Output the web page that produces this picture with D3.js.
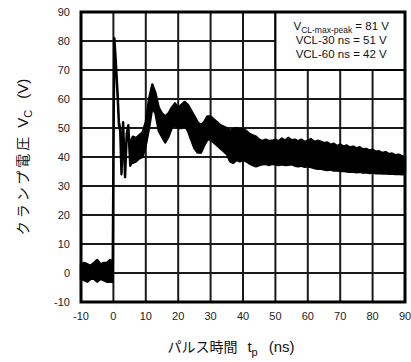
<!DOCTYPE html>
<html>
<head>
<meta charset="utf-8">
<script src="https://cdn.jsdelivr.net/npm/d3@7"></script>
<style>
  body { margin: 0; background: #fff; }
  svg { display: block; }
</style>
</head>
<body>
<div id="chart"></div>
<script>
// time (ns), upper / lower edge of the trace (V)
const timeNs = [-10, -9, -8, -7, -6, -5, -4, -3, -2, -1, -0.2,
    0, 0.3, 0.8, 1.3, 1.7, 2.1, 2.5, 3.0, 3.6, 4.1, 4.6, 5.2, 5.6,
    6, 7, 8, 9, 10, 11, 12, 13, 14, 15, 16, 17, 18, 19, 20,
    21, 22, 23, 24, 25, 26, 27, 28, 29, 30, 31, 32, 33, 34, 35,
    36, 37, 38, 39, 40, 41, 42, 43, 44, 45, 46, 47, 48, 49, 50,
    51, 52, 53, 54, 55, 56, 57, 58, 59, 60, 61, 62, 63, 64, 65,
    66, 67, 68, 69, 70, 71, 72, 73, 74, 75, 76, 77, 78, 79, 80,
    81, 82, 83, 84, 85, 86, 87, 88, 89, 90];
const upperV = [3, 3.5, 3, 2.5, 3.5, 4.5, 3, 3.5, 3.5, 4.5, 4,
    40, 81, 72, 62, 52, 50, 35, 52, 33.5, 48, 51, 38, 46,
    47, 46.5, 47.5, 48.5, 52, 60, 65, 62, 57, 55, 54, 55, 57, 58.5, 57,
    58, 59, 58, 56, 54, 52, 51, 52, 54, 54, 53, 52, 51, 50.5, 50,
    49, 49.5, 50, 49.5, 49.5, 49, 48, 47.5, 47, 46, 45.5, 46, 45.5, 45.6, 46,
    45.4, 46.4, 45.6, 46.6, 45.8, 46, 45.4, 46, 45.2, 45.6, 46.2, 45.2, 45.6, 45.3, 44.8,
    45, 44.2, 44.6, 43.8, 44.3, 43.6, 44, 43.3, 43.6, 43, 43.4, 42.6, 42.8, 42.2, 42.5,
    41.8, 42, 41.4, 41.7, 41, 41.2, 40.6, 40.8, 40.3, 40];
const lowerV = [-2, -2.5, -3, -2, -2, -3, -2, -2.5, -3, -3, -3,
    40, 80, 71, 61, 51, 49, 34, 51, 33, 47, 50, 37, 38,
    38, 38.5, 39.5, 40, 44, 50, 57, 55, 49, 47, 45, 47, 50, 51, 50,
    50, 51, 49, 46, 43, 41.5, 41.5, 44, 46, 46, 45, 44, 43, 42, 41,
    38.5, 38, 39, 38.5, 39, 38.5, 37.8, 37.2, 36.8, 37.2, 37.5, 37.6, 37.2, 37.6, 37.5,
    37.2, 37.5, 37.2, 37.3, 37.5, 37, 36.8, 37, 36.6, 36.8, 36.5, 36.2, 35.9, 36, 35.7,
    35.5, 35.7, 35.3, 35.4, 35.1, 35.2, 35, 34.9, 35, 34.7, 34.9, 34.6, 34.7, 34.5, 34.6,
    34.4, 34.5, 34.3, 34.4, 34.2, 34.3, 34.1, 34.2, 34, 34.1];

const xTicks = [-10, 0, 10, 20, 30, 40, 50, 60, 70, 80, 90];
const yTicks = [-10, 0, 10, 20, 30, 40, 50, 60, 70, 80, 90];
const noteLines = ["VCL-30 ns = 51 V", "VCL-60 ns = 42 V"];

const width = 411, height = 362;
const margin = {top: 12, right: 6, bottom: 60, left: 81};
const latin = "'Liberation Sans', Arial, sans-serif";
const jp = "'Noto Sans CJK JP', sans-serif";
const gridColor = "#1a1a1a";

const svg = d3.select("#chart").append("svg")
    .attr("width", width)
    .attr("height", height);

const x = d3.scaleLinear().domain([-10, 90]).range([margin.left, width - margin.right]);
const y = d3.scaleLinear().domain([-10, 90]).range([height - margin.bottom, margin.top]);

// grid
svg.append("g").selectAll("line")
    .data(xTicks).enter().append("line")
    .attr("x1", d => x(d)).attr("x2", d => x(d))
    .attr("y1", y(-10)).attr("y2", y(90))
    .attr("stroke", gridColor).attr("stroke-width", 2);
svg.append("g").selectAll("line")
    .data(yTicks).enter().append("line")
    .attr("x1", x(-10)).attr("x2", x(90))
    .attr("y1", d => y(d)).attr("y2", d => y(d))
    .attr("stroke", gridColor).attr("stroke-width", 2);

// tick labels
svg.append("g").selectAll("text")
    .data(yTicks)
    .enter().append("text")
    .attr("x", x(-10) - 11)
    .attr("y", d => y(d) + 4)
    .attr("text-anchor", "end")
    .attr("font-family", latin).attr("font-size", 11).attr("fill", "#222")
    .text(d => d);

svg.append("g").selectAll("text")
    .data(xTicks)
    .enter().append("text")
    .attr("x", d => x(d))
    .attr("y", y(-10) + 18)
    .attr("text-anchor", "middle")
    .attr("font-family", latin).attr("font-size", 11).attr("fill", "#222")
    .text(d => d);

// trace
const pts = timeNs.map((t, i) => ({t: t, hi: upperV[i], lo: lowerV[i]}));
const area = d3.area()
    .x(d => x(d.t))
    .y0(d => y(d.lo))
    .y1(d => y(d.hi));

svg.append("path")
    .datum(pts)
    .attr("d", area)
    .attr("fill", "#000")
    .attr("stroke", "#000")
    .attr("stroke-width", 2.4)
    .attr("stroke-linejoin", "round");

// note box
svg.append("rect")
    .attr("x", x(50)).attr("y", y(90))
    .attr("width", x(90) - x(50)).attr("height", y(70) - y(90))
    .attr("fill", "#fff").attr("stroke", "#000").attr("stroke-width", 2);

const cx = (x(50) + x(90)) / 2 + 1;
const t1 = svg.append("text")
    .attr("x", cx).attr("y", 30)
    .attr("text-anchor", "middle")
    .attr("font-family", latin).attr("font-size", 11.5).attr("fill", "#111");
t1.append("tspan").text("V");
t1.append("tspan").attr("font-size", 8.5).attr("dy", 3).text("CL-max-peak");
t1.append("tspan").attr("dy", -3).text("  = 81 V");

svg.append("g").selectAll("text")
    .data(noteLines)
    .enter().append("text")
    .attr("x", cx)
    .attr("y", (d, i) => 44 + i * 14)
    .attr("text-anchor", "middle")
    .attr("font-family", latin).attr("font-size", 11.5).attr("fill", "#111")
    .text(d => d);

// frame
svg.append("rect")
    .attr("x", x(-10)).attr("y", y(90))
    .attr("width", x(90) - x(-10)).attr("height", y(-10) - y(90))
    .attr("fill", "none").attr("stroke", "#000").attr("stroke-width", 3);

// axis titles
const xt = svg.append("text")
    .attr("x", 231).attr("y", 352)
    .attr("text-anchor", "middle")
    .attr("font-size", 15).attr("fill", "#111");
xt.append("tspan").attr("font-family", jp).attr("font-size", 14).text("パルス時間");
xt.append("tspan").attr("font-family", latin).attr("dx", 10).text("t");
xt.append("tspan").attr("font-family", latin).attr("font-size", 11).attr("dy", 4).text("p");
xt.append("tspan").attr("font-family", latin).attr("dy", -4).attr("dx", 11).text("(ns)");

const yt = svg.append("text")
    .attr("transform", "translate(28," + 157 + ") rotate(-90)")
    .attr("text-anchor", "middle")
    .attr("font-size", 15).attr("fill", "#111");
yt.append("tspan").attr("font-family", jp).attr("font-size", 14).attr("letter-spacing", 3).text("クランプ電圧");
yt.append("tspan").attr("font-family", latin).attr("dx", 6).text("V");
yt.append("tspan").attr("font-family", latin).attr("font-size", 11).attr("dy", 4).text("C");
yt.append("tspan").attr("font-family", latin).attr("dy", -4).attr("dx", 11).text("(V)");
</script>
</body>
</html>
